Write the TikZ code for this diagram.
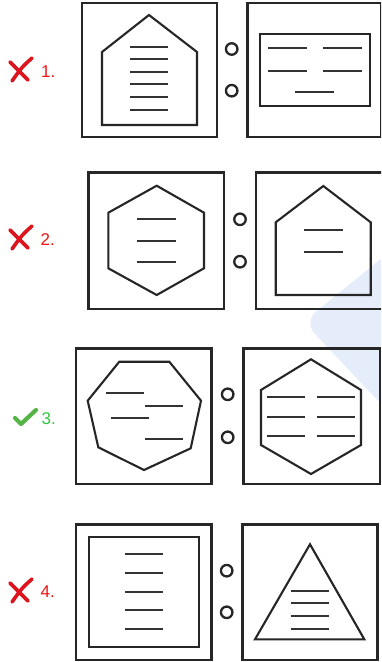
\documentclass[tikz,border=0pt]{standalone}
\usepackage{fontspec}
\setmainfont{Liberation Sans}
\usetikzlibrary{calc}
\definecolor{blobblue}{RGB}{229,237,251}
\definecolor{xred}{RGB}{220,20,30}
\definecolor{tred}{RGB}{240,20,20}
\definecolor{tgreen}{RGB}{50,200,60}
\definecolor{ckgreen}{RGB}{85,180,70}
\begin{document}
\begin{tikzpicture}[x=1pt,y=-1pt,
  box/.style={draw=black!85, line width=2.6pt},
  shp/.style={draw=black!85, line width=2.1pt},
  bar/.style={draw=black!80, line width=2.3pt},
  ring/.style={draw=black!85, circle, line width=2.3pt, minimum size=11.5pt, inner sep=0pt},
  lbl/.style={font=\fontsize{17}{20}\selectfont, inner sep=0pt, anchor=base west},
  xmark/.style={draw=xred, line width=3.6pt, line cap=round},
]
\useasboundingbox (0,0) rectangle (381,662);
\clip (0,0) rectangle (381,662);
\fill[white] (0,0) rectangle (381,662);
% watermark blob
\fill[blobblue, rounded corners=16pt] (303.6,321.8) -- (390,251.4) -- (480,330) -- (400,424) -- cycle;

% ---------- Row 1 ----------
\coordinate (x1) at (20,70);
\draw[xmark] ($(x1)+(-10,-8)$) -- ($(x1)+(8,10)$);
\draw[xmark] ($(x1)+(12,-12)$) .. controls ($(x1)+(2,-3)$) .. ($(x1)+(-8,11)$);
\node[lbl, text=tred] (n1) at (41,77) {1.};
\draw[box] (82,3) rectangle (217,137);
\draw[shp] (102,125) -- (102,52) -- (149,15) -- (197,52) -- (197,125) -- cycle;
\foreach \y in {46.7,59.3,71.7,84.3,97.3,110} \draw[bar] (130,\y) -- (168,\y);
\node[ring] (o1a) at (231.7,49) {};
\node[ring] (o1b) at (231.7,90.7) {};
\draw[box] (247.5,3) rectangle (381.3,137);
\draw[shp] (260,34) rectangle (370,106);
\foreach \y in {47.7,71} {\draw[bar] (268,\y) -- (307,\y); \draw[bar] (323,\y) -- (362,\y);}
\draw[bar] (295,91.7) -- (334,91.7);

% ---------- Row 2 ----------
\coordinate (x2) at (20,238);
\draw[xmark] ($(x2)+(-10,-8)$) -- ($(x2)+(8,10)$);
\draw[xmark] ($(x2)+(12,-12)$) .. controls ($(x2)+(2,-3)$) .. ($(x2)+(-8,11)$);
\node[lbl, text=tred] (n2) at (40.5,245.5) {2.};
\draw[box] (88.3,172.3) rectangle (224,309);
\draw[shp] (156.7,185.7) -- (204,212.7) -- (204,268.3) -- (156.7,295) -- (108.3,268.3) -- (108.3,212.7) -- cycle;
\foreach \y in {219,240.7,261.7} \draw[bar] (136.7,\y) -- (175.7,\y);
\node[ring] (o2a) at (240,219.3) {};
\node[ring] (o2b) at (240,261.7) {};
\draw[box] (256,172.3) rectangle (386,309);
\draw[shp] (275.7,295) -- (275.7,222.3) -- (323.3,186) -- (370.7,222.3) -- (370.7,295) -- cycle;
\foreach \y in {230,251.7} \draw[bar] (304,\y) -- (343.3,\y);

% ---------- Row 3 ----------
\coordinate (c3) at (25,419);
\draw[draw=ckgreen, line width=4.2pt, line cap=round, line join=round]
  ($(c3)+(-10,-1)$) -- ($(c3)+(-4,5)$) -- ($(c3)+(11,-9)$);
\node[lbl, text=tgreen] (n3) at (41.5,424) {3.};
\draw[box] (76,348.3) rectangle (211.7,484);
\draw[shp] (119.3,361.7) -- (169.3,361.7) -- (201,400.7) -- (190.7,448.3) -- (144,470) -- (98.3,447.3) -- (87.7,400.7) -- cycle;
\draw[bar] (106,392.7) -- (144,392.7);
\draw[bar] (145,406) -- (183.3,406);
\draw[bar] (111,418.3) -- (149,418.3);
\draw[bar] (145,439.3) -- (183.3,439.3);
\node[ring] (o3a) at (227.7,394.3) {};
\node[ring] (o3b) at (227.7,437.3) {};
\draw[box] (243.3,348.3) rectangle (380,484);
\draw[shp] (311,359.3) -- (361,390) -- (361,445) -- (311,474) -- (261,445) -- (261,390) -- cycle;
\foreach \y in {396.7,416.7,436} {\draw[bar] (266.7,\y) -- (305,\y); \draw[bar] (316.7,\y) -- (355,\y);}

% ---------- Row 4 ----------
\coordinate (x4) at (20,591);
\draw[xmark] ($(x4)+(-10,-8)$) -- ($(x4)+(8,10)$);
\draw[xmark] ($(x4)+(12,-12)$) .. controls ($(x4)+(2,-3)$) .. ($(x4)+(-8,11)$);
\node[lbl, text=tred] (n4) at (40.5,597) {4.};
\draw[box] (76,524.3) rectangle (211.7,660);
\draw[shp] (89,536.7) rectangle (199,646.7);
\foreach \y in {554.3,572.7,591.7,610,629} \draw[bar] (125,\y) -- (163.3,\y);
\node[ring] (o4a) at (226.7,570.7) {};
\node[ring] (o4b) at (226.7,612.3) {};
\draw[box] (242.7,524.3) rectangle (377.7,660);
\draw[shp] (310,544.3) -- (364.3,639.3) -- (255,639.3) -- cycle;
\foreach \y in {590.7,603.3,616,629} \draw[bar] (290.7,\y) -- (329,\y);
\end{tikzpicture}
\end{document}
